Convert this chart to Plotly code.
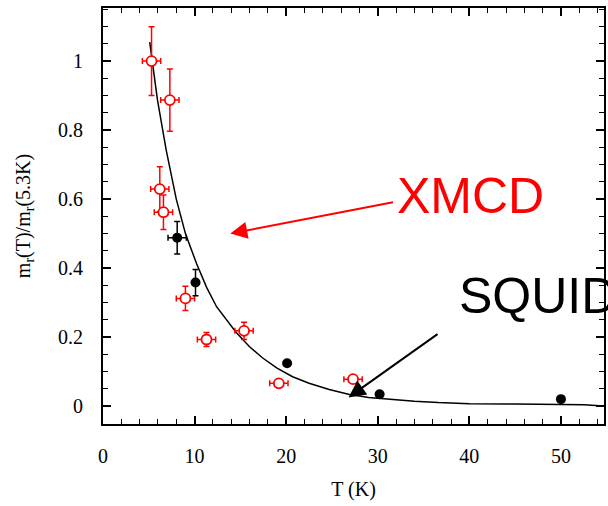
import plotly.graph_objects as go

# XMCD (red open circles)
xmcd_T = [5.3, 7.3, 6.2, 6.6, 9.0, 11.3, 15.4, 19.2, 27.3]
xmcd_m = [1.0, 0.887, 0.629, 0.562, 0.312, 0.193, 0.218, 0.066, 0.078]
xmcd_dT = [1.0, 1.0, 1.0, 1.0, 1.0, 1.0, 1.0, 1.0, 1.0]
xmcd_dm = [0.10, 0.09, 0.065, 0.05, 0.035, 0.02, 0.025, 0.008, 0.008]

# SQUID (black filled)
squid_T = [8.1, 10.1, 20.1, 30.2, 50.0]
squid_m = [0.488, 0.358, 0.124, 0.034, 0.020]
squid_dT = [1.0, 0.0, 0.0, 0.0, 0.0]
squid_dm = [0.047, 0.038, 0.0, 0.0, 0.0]

# model curve
curve_T = [5.1, 5.95, 6.9, 8.0, 9.0, 10.2, 11.3, 12.4, 14.5, 16.0, 17.4, 19.0,
           20.7, 22.5, 24.7, 26.8, 29.0, 31.9, 34.0, 36.6, 40.0, 45.0, 50.0, 52.5, 54.7]
curve_m = [1.055, 0.887, 0.742, 0.60, 0.50, 0.414, 0.345, 0.288, 0.215, 0.172, 0.140, 0.110,
           0.085, 0.066, 0.048, 0.034, 0.025, 0.018, 0.014, 0.010, 0.007, 0.006, 0.005, 0.004, 0.0]

x_ticks = [0, 10, 20, 30, 40, 50]
y_ticks = [0, 0.2, 0.4, 0.6, 0.8, 1]
y_labels = ["0", "0.2", "0.4", "0.6", "0.8", "1"]

serif = "Liberation Serif"

W, H = 608, 506
L, R, T, B = 103, 2, 8, 82
pw, ph = W - L - R, H - T - B
x0, x1 = 0, 54.7
y0, y1 = -0.052, 1.154


def px(t):
    return L + (t - x0) / (x1 - x0) * pw


def py(m):
    return T + (y1 - m) / (y1 - y0) * ph


fig = go.Figure()
fig.add_trace(go.Scatter(x=curve_T, y=curve_m, mode="lines",
                         line=dict(color="black", width=1.5), showlegend=False))
fig.add_trace(go.Scatter(
    x=xmcd_T, y=xmcd_m, mode="markers",
    marker=dict(symbol="circle", size=10, color="white", line=dict(color="red", width=1.8)),
    error_x=dict(type="data", array=xmcd_dT, color="red", thickness=1.5, width=3),
    error_y=dict(type="data", array=xmcd_dm, color="red", thickness=1.5, width=3),
    showlegend=False))
fig.add_trace(go.Scatter(
    x=squid_T, y=squid_m, mode="markers",
    marker=dict(symbol="circle", size=10, color="black"),
    error_x=dict(type="data", array=squid_dT, color="black", thickness=1.5, width=3),
    error_y=dict(type="data", array=squid_dm, color="black", thickness=1.5, width=3),
    showlegend=False))

# arrows (head in data coords, tail in screen pixels)
arrows = [(13.9, 0.50, 395, 202, "red"), (26.8, 0.025, 440, 333, "black")]
for hx, hy, tx, ty, col in arrows:
    fig.add_annotation(x=hx, y=hy, xref="x", yref="y", ax=tx - px(hx), ay=ty - py(hy),
                       showarrow=True, arrowhead=2, arrowsize=1.7, arrowwidth=2,
                       arrowcolor=col, text="", standoff=0)

labels = [("XMCD", 396, 196, "red"), ("SQUID", 458, 296, "black")]
for txt, lx, ly, col in labels:
    fig.add_annotation(x=(lx - L) / pw, y=1 - (ly - T) / ph, xref="paper", yref="paper",
                       text=txt, showarrow=False, xanchor="left", yanchor="middle",
                       font=dict(family="Liberation Sans", size=50, color=col))

axis_common = dict(showline=True, linecolor="black", linewidth=2, mirror="ticks",
                   ticks="inside", ticklen=8, tickwidth=1.5, tickcolor="black",
                   showgrid=False, zeroline=False,
                   tickfont=dict(family=serif, size=20, color="black"))
fig.update_xaxes(range=[x0, x1], tickvals=x_ticks, ticktext=[str(v) for v in x_ticks],
                 title=dict(text="T (K)", font=dict(family=serif, size=20, color="black"), standoff=16),
                 minor=dict(dtick=2, ticks="inside", ticklen=5, tickwidth=1.2, tickcolor="black", showgrid=False),
                 ticklabelstandoff=13, **axis_common)
fig.update_yaxes(range=[y0, y1], tickvals=y_ticks, ticktext=y_labels,
                 title=dict(text="m<sub>r</sub>(T)/m<sub>r</sub>(5.3K)",
                            font=dict(family=serif, size=20, color="black"), standoff=22),
                 minor=dict(dtick=0.05, tick0=0, ticks="inside", ticklen=5, tickwidth=1.2, tickcolor="black", showgrid=False),
                 ticklabelstandoff=14, **axis_common)

fig.update_layout(width=W, height=H, margin=dict(l=L, r=R, t=T, b=B),
                  plot_bgcolor="white", paper_bgcolor="white")
fig.write_html("out.html")
